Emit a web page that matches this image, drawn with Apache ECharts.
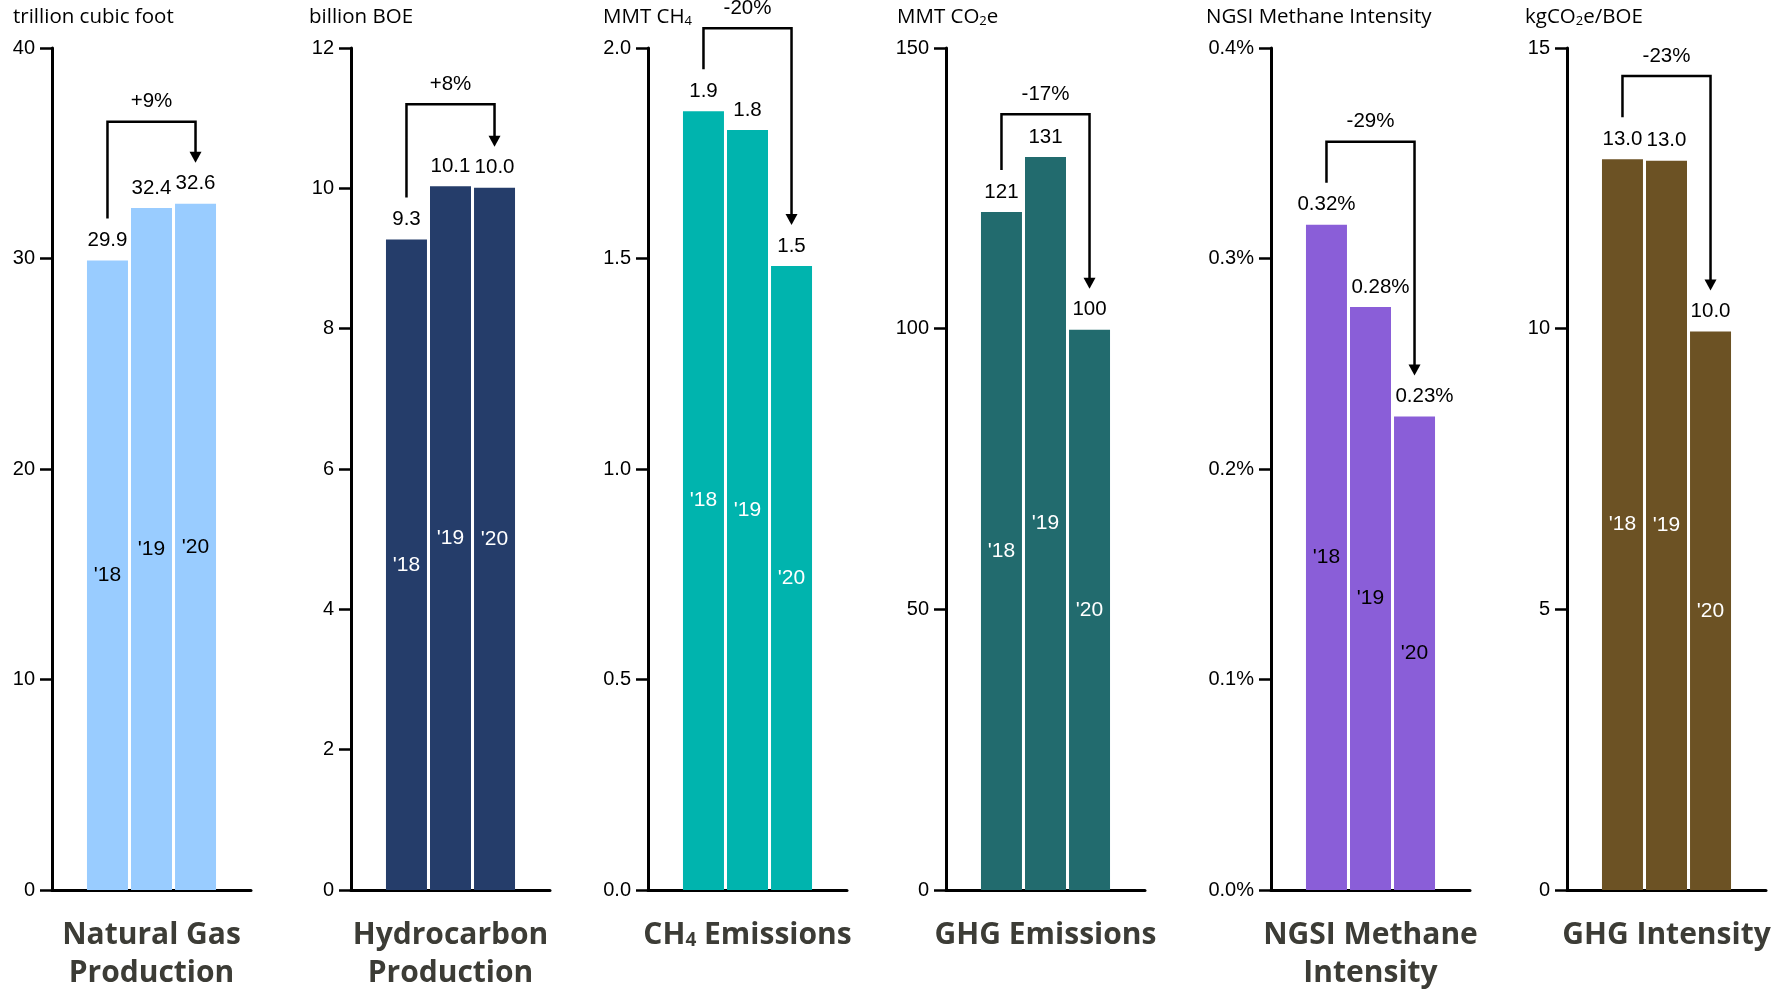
<!DOCTYPE html>
<html><head><meta charset="utf-8">
<script src="https://cdn.jsdelivr.net/npm/echarts@6/dist/echarts.min.js"></script>
<style>html,body{margin:0;padding:0;background:#fff}#c{width:1774px;height:990px}</style>
</head><body><div id="c"></div>
<script>
// ---------- data ----------
const years = ["'18", "'19", "'20"];

const natGasValues = [29.9, 32.4, 32.6];
const natGasLabels = ['29.9', '32.4', '32.6'];

const hydrocarbonValues = [9.27, 10.03, 10.01];
const hydrocarbonLabels = ['9.3', '10.1', '10.0'];

const ch4Values = [1.85, 1.805, 1.482];
const ch4Labels = ['1.9', '1.8', '1.5'];

const ghgValues = [120.8, 130.6, 99.8];
const ghgLabels = ['121', '131', '100'];

const ngsiValues = [0.316, 0.277, 0.225];
const ngsiLabels = ['0.32%', '0.28%', '0.23%'];

const ghgIntValues = [13.02, 12.99, 9.95];
const ghgIntLabels = ['13.0', '13.0', '10.0'];

const changeLabels = ['+9%', '+8%', '-20%', '-17%', '-29%', '-23%'];
const bracketLevels = [36.5, 11.2, 2.047, 138.2, 0.3555, 14.5];

const yMax = [40, 12, 2.0, 150, 0.4, 15];
const yInterval = [10, 2, 0.5, 50, 0.1, 5];

const unitNames = [
  'trillion cubic foot',
  'billion BOE',
  '{a|MMT CH}{s|4}',
  '{a|MMT CO}{s|2}{a|e}',
  'NGSI Methane Intensity',
  '{a|kgCO}{s|2}{a|e/BOE}'
];
const panelTitles = [
  '{t|Natural Gas}\n{t|Production}',
  '{t|Hydrocarbon}\n{t|Production}',
  '{t|CH}{ts|4}{t| Emissions}',
  '{t|GHG Emissions}',
  '{t|NGSI Methane}\n{t|Intensity}',
  '{t|GHG Intensity}'
];

// ---------- styles / layout ----------
const colors = ['#99CCFF', '#253D6A', '#00B4AE', '#226B6E', '#8A5ED8', '#6C5224'];
const yearColors = ['#000', '#fff', '#fff', '#fff', '#000', '#fff'];
const tickFormatters = [
  v => String(v), v => String(v), v => v.toFixed(1),
  v => String(v), v => v.toFixed(1) + '%', v => String(v)
];
const axisLeft = [52, 351, 648, 946, 1271, 1567];
const unitLeft = [13, 309, 603, 897, 1206, 1525];
// horizontal nudges (px) of value labels, per panel / bar
const labelNudge = [[0,0,0],[0,0,0],[0,0,0],[0,0,0],[0,10,10],[0,0,0]];

const valueSets = [natGasValues, hydrocarbonValues, ch4Values, ghgValues, ngsiValues, ghgIntValues];
const labelSets = [natGasLabels, hydrocarbonLabels, ch4Labels, ghgLabels, ngsiLabels, ghgIntLabels];

const numFont = '"Liberation Sans", Arial, sans-serif';
const textFont = '"Open Sans", "Noto Sans", sans-serif';
const titleColor = '#3c3c36';

const grid = [], xAxis = [], yAxis = [], series = [];

valueSets.forEach((vals, i) => {
  grid.push({ left: axisLeft[i], top: 48, width: 199, height: 842, outerBoundsMode: 'none' });
  xAxis.push({
    type: 'value', gridIndex: i, min: -1.26, max: 3.26,
    axisLine: { show: true, onZero: false, lineStyle: { color: '#000', width: 3 } },
    axisTick: { show: false }, axisLabel: { show: false }, splitLine: { show: false },
    name: panelTitles[i], nameLocation: 'middle', nameGap: 22,
    nameTextStyle: {
      color: titleColor, fontFamily: textFont, fontWeight: 'bold', fontSize: 30, lineHeight: 38,
      rich: {
        t: { color: titleColor, fontFamily: textFont, fontWeight: 'bold', fontSize: 30, lineHeight: 38, verticalAlign: 'bottom' },
        ts: { color: titleColor, fontFamily: textFont, fontWeight: 'bold', fontSize: 19, lineHeight: 20, verticalAlign: 'bottom' }
      }
    }
  });
  yAxis.push({
    type: 'value', gridIndex: i, min: 0, max: yMax[i], interval: yInterval[i],
    axisLine: { show: true, onZero: false, lineStyle: { color: '#000', width: 3 } },
    axisTick: { show: true, length: 12, lineStyle: { color: '#000', width: 2.5 } },
    axisLabel: { margin: 17, color: '#000', fontSize: 20, fontFamily: numFont, formatter: tickFormatters[i] },
    splitLine: { show: false }
  });
  const pts = vals.map((v, j) => [j, v]);
  series.push({
    type: 'bar', xAxisIndex: i, yAxisIndex: i, data: pts, barWidth: 41, silent: true,
    itemStyle: { color: colors[i] },
    label: {
      show: true, position: 'inside', color: yearColors[i], fontSize: 21, fontFamily: numFont,
      formatter: p => years[p.dataIndex]
    }
  });
  series.push({
    type: 'custom', xAxisIndex: i, yAxisIndex: i, data: pts, clip: false, silent: true,
    encode: { x: 0, y: 1 },
    renderItem: (params, api) => {
      const pt = api.coord([api.value(0), api.value(1)]);
      return {
        type: 'text', x: pt[0] + labelNudge[i][params.dataIndex], y: pt[1] - 20,
        style: { text: labelSets[i][params.dataIndex], align: 'center', verticalAlign: 'middle',
                 font: '20.5px ' + numFont, fill: '#000' }
      };
    }
  });
  series.push({
    type: 'custom', xAxisIndex: i, yAxisIndex: i, clip: false, silent: true,
    data: [[0, vals[0], 2, vals[2], bracketLevels[i]]],
    encode: { x: [0, 2], y: [1, 3, 4] },
    renderItem: (params, api) => {
      const a = api.coord([api.value(0), api.value(1)]);
      const b = api.coord([api.value(2), api.value(3)]);
      const lvl = api.coord([api.value(0), api.value(4)])[1];
      const ay = a[1] - 42, tip = b[1] - 41;
      return {
        type: 'group', children: [
          { type: 'polyline', shape: { points: [[a[0], ay], [a[0], lvl], [b[0], lvl], [b[0], tip - 9]] },
            style: { stroke: '#000', lineWidth: 2.5, fill: 'none' } },
          { type: 'polygon', shape: { points: [[b[0] - 6, tip - 11], [b[0] + 6, tip - 11], [b[0], tip]] },
            style: { fill: '#000' } },
          { type: 'text', x: (a[0] + b[0]) / 2, y: lvl - 20,
            style: { text: changeLabels[i], align: 'center', verticalAlign: 'middle',
                     font: '20.5px ' + numFont, fill: '#000' } }
        ]
      };
    }
  });
});

const graphic = unitNames.map((u, i) => ({
  type: 'text', left: unitLeft[i], top: 7, silent: true,
  style: {
    text: u, font: '20.5px ' + textFont, fill: '#000',
    rich: {
      a: { fontSize: 20.5, fontFamily: textFont, lineHeight: 24, verticalAlign: 'bottom', color: '#000' },
      s: { fontSize: 13, fontFamily: textFont, lineHeight: 12, verticalAlign: 'bottom', color: '#000' }
    }
  }
}));

const chart = echarts.init(document.getElementById('c'));
chart.setOption({
  animation: false,
  backgroundColor: '#fff',
  grid, xAxis, yAxis, series, graphic
});
</script>
</body></html>
